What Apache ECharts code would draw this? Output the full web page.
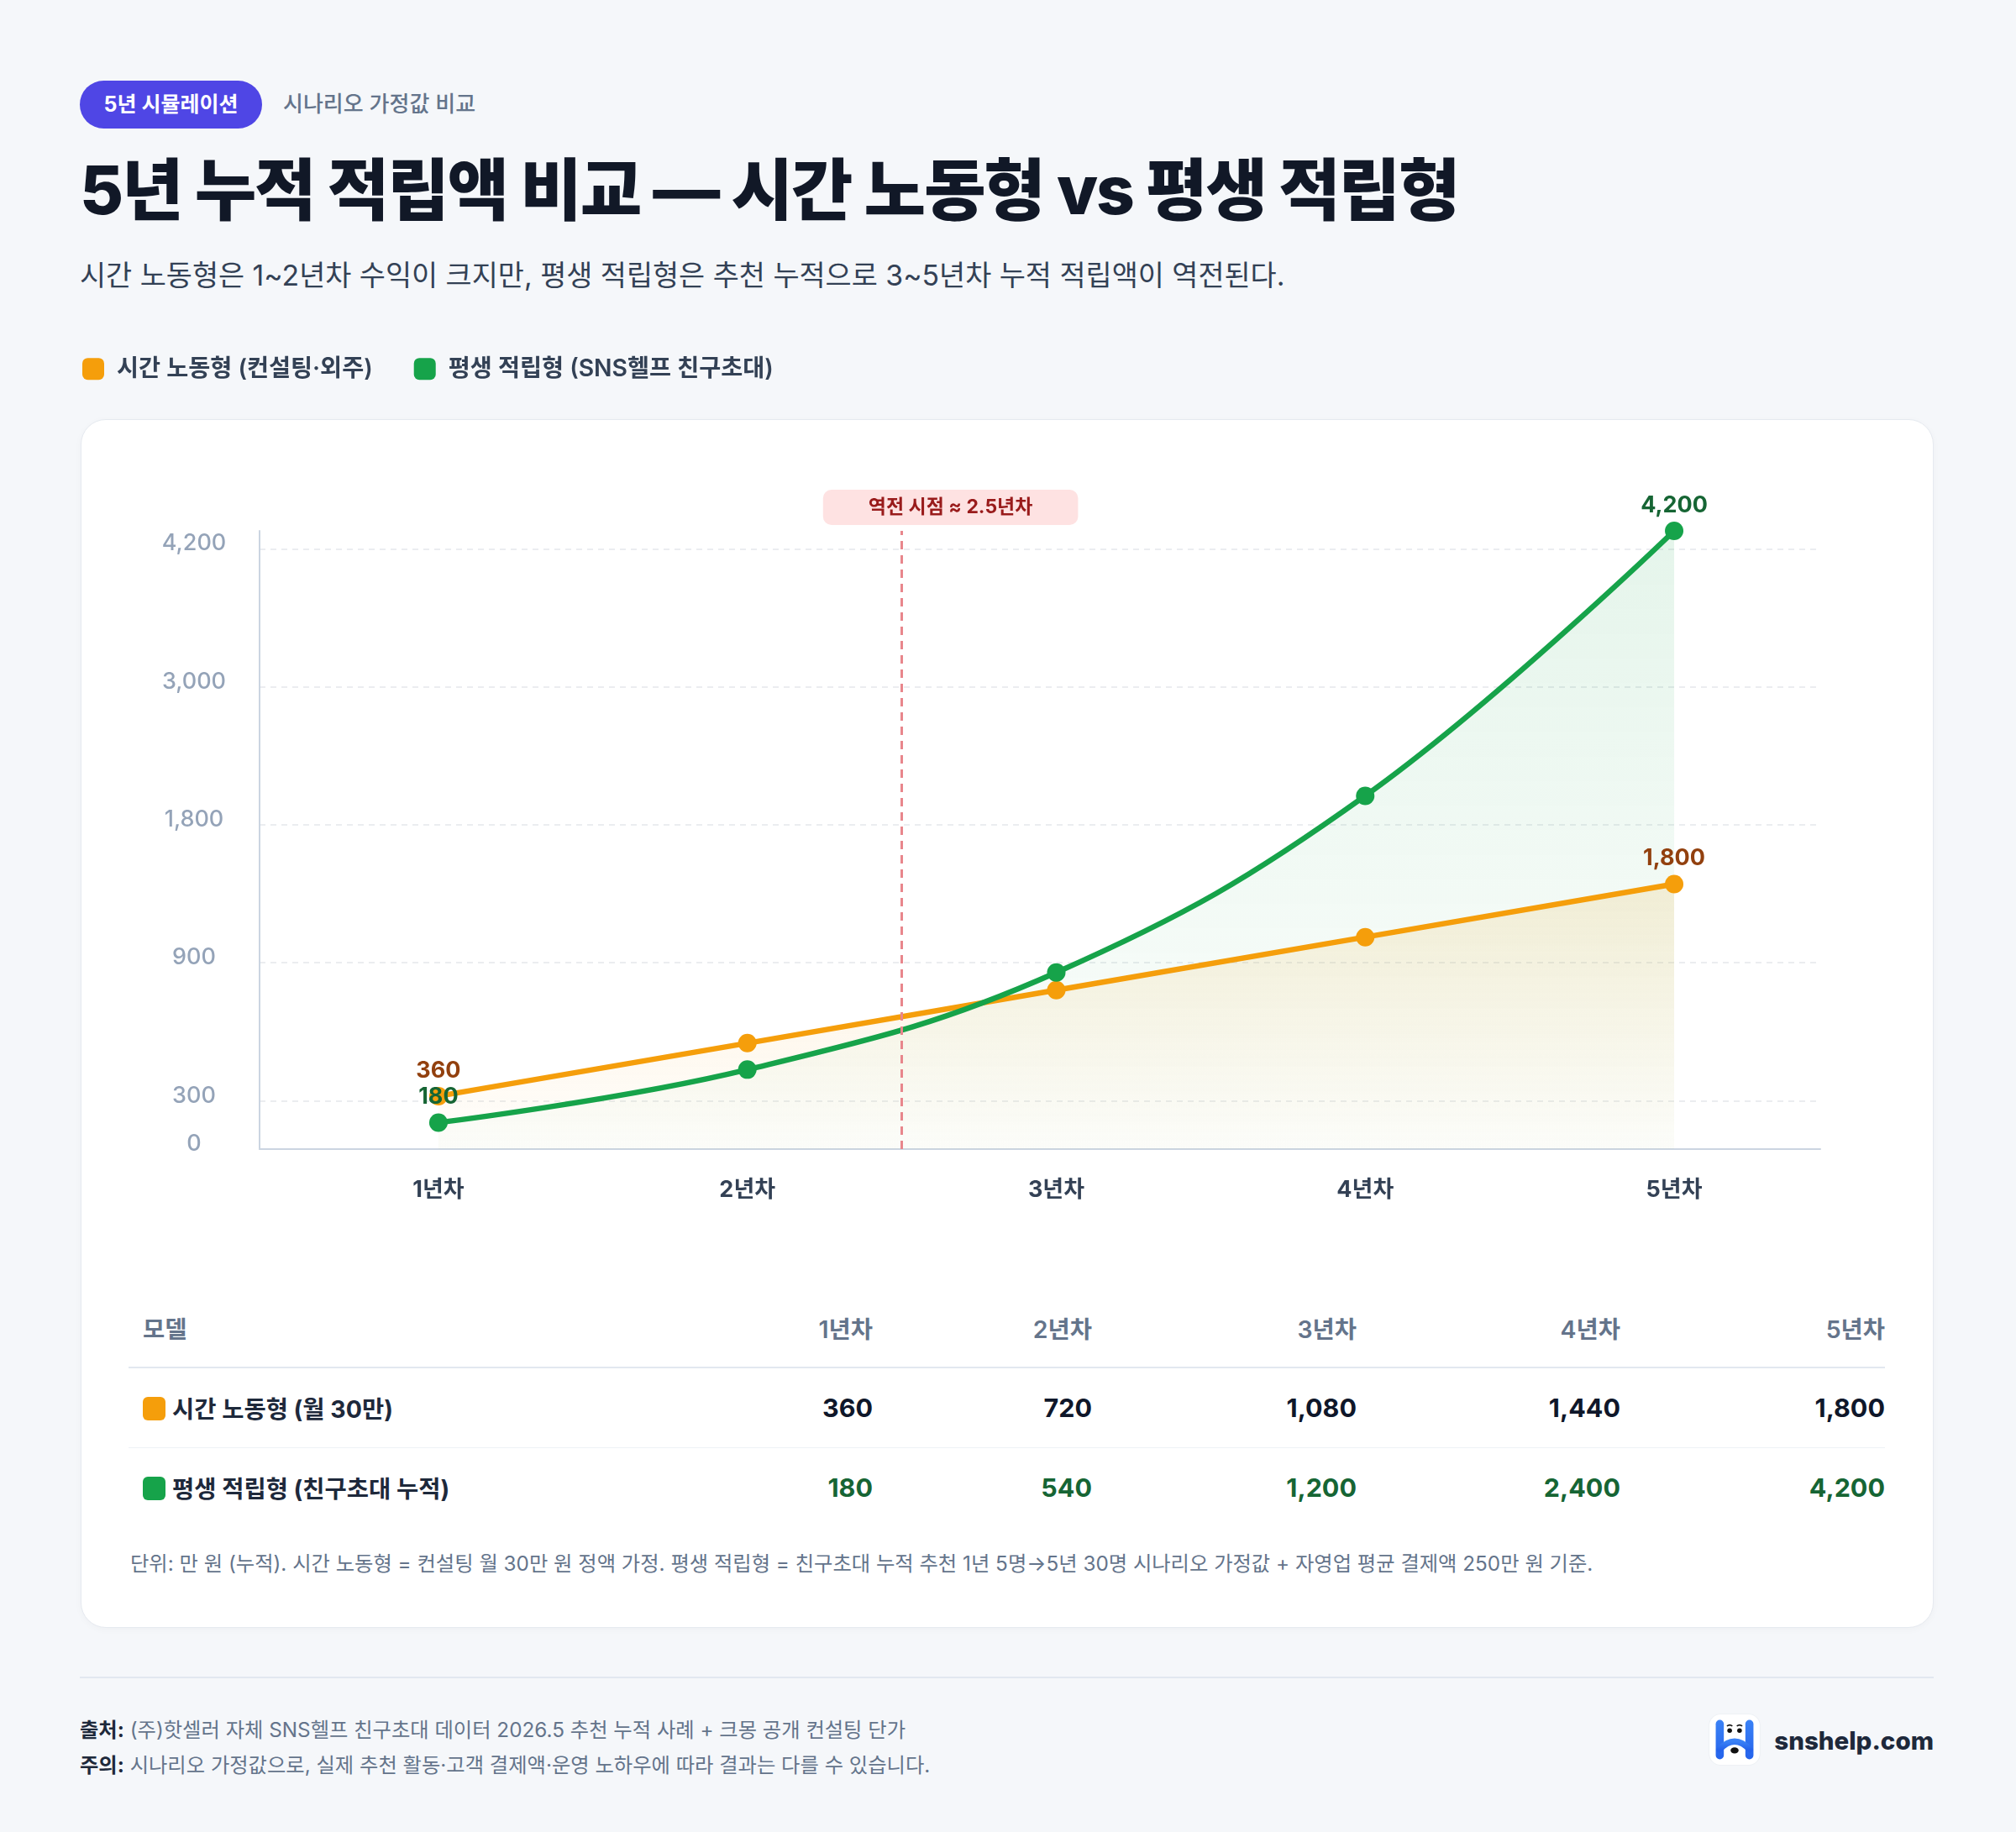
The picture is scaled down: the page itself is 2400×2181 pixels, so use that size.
<!DOCTYPE html>
<html lang="ko">
<head>
<meta charset="utf-8">
<script src="https://cdn.jsdelivr.net/npm/echarts@6/dist/echarts.min.js"></script>
<style>
  * { box-sizing: border-box; }
  body {
    margin: 0; width: 2400px; height: 2181px; background: #f5f7fa;
    position: relative; overflow: hidden;
    font-family: Inter, "Noto Sans CJK KR", sans-serif;
  }
  .abs { position: absolute; white-space: nowrap; margin: 0; }
  .badge {
    left: 95px; top: 96px; width: 217px; height: 57px; border-radius: 29px;
    background: #4f46e5; color: #fff; font-size: 25px; font-weight: 700;
    line-height: 57px; text-align: center;
  }
  .kicker { left: 337px; top: 106px; font-size: 26px; line-height: 36px; color: #64748b; font-weight: 500; }
  h1.abs { left: 95px; top: 178px; font-size: 80px; line-height: 96px; font-weight: 800; color: #111827; letter-spacing: -2.2px; }
  .sub { left: 95px; top: 307px; font-size: 33.8px; line-height: 42px; color: #334155; }
  .card {
    left: 96px; top: 499px; width: 2206px; height: 1439px; background: #fff;
    border: 1.5px solid #e6eaf0; border-radius: 30px;
    box-shadow: 0 2px 8px rgba(15, 23, 42, 0.03);
  }
  #chart { position: absolute; left: 0; top: 0; width: 2400px; height: 1480px; }
  table.abs {
    left: 153px; top: 1533px; width: 2091px; border-collapse: collapse; table-layout: fixed;
  }
  td, th { height: 95px; padding: 0; vertical-align: middle; text-align: right; white-space: nowrap; }
  th { font-size: 28.5px; font-weight: 600; color: #64748b; border-bottom: 2px solid #e2e8f0; }
  td { font-size: 30.5px; font-weight: 700; color: #0f172a; }
  tr.r0 td { border-bottom: 1.5px solid #eef2f6; }
  th:first-child, td:first-child { text-align: left; padding-left: 17px; }
  td:first-child { color: #1e293b; font-size: 28.5px; }
  .sw { display: inline-block; width: 27px; height: 28px; border-radius: 6px; vertical-align: -3px; margin-right: 8px; }
  .note { left: 155px; top: 1845px; font-size: 24.3px; line-height: 32px; color: #64748b; }
  .rule { left: 95px; top: 1996px; width: 2207px; height: 2px; background: #e2e8f0; }
  .foot { left: 95px; font-size: 24.3px; line-height: 32px; color: #64748b; }
  .foot b { color: #1e293b; font-weight: 700; }
  .brand { right: 98px; top: 2052px; font-size: 29.5px; line-height: 40px; font-weight: 800; color: #1e293b; }
</style>
</head>
<body>
<div class="abs badge">5년 시뮬레이션</div>
<div class="abs kicker">시나리오 가정값 비교</div>
<h1 class="abs">5년 누적 적립액 비교 — 시간 노동형 vs 평생 적립형</h1>
<p class="abs sub">시간 노동형은 1~2년차 수익이 크지만, 평생 적립형은 추천 누적으로 3~5년차 누적 적립액이 역전된다.</p>

<div class="abs card"></div>
<div id="chart"></div>
<table class="abs" id="tbl">
  <colgroup>
    <col style="width:625px"><col style="width:261px"><col style="width:261px">
    <col style="width:315px"><col style="width:314px"><col style="width:315px">
  </colgroup>
  <thead></thead>
  <tbody></tbody>
</table>
<p class="abs note">단위: 만 원 (누적). 시간 노동형 = 컨설팅 월 30만 원 정액 가정. 평생 적립형 = 친구초대 누적 추천 1년 5명→5년 30명 시나리오 가정값 + 자영업 평균 결제액 250만 원 기준.</p>

<div class="abs rule"></div>
<p class="abs foot" style="top:2043px"><b>출처:</b> (주)핫셀러 자체 SNS헬프 친구초대 데이터 2026.5 추천 누적 사례 + 크몽 공개 컨설팅 단가</p>
<p class="abs foot" style="top:2085px"><b>주의:</b> 시나리오 가정값으로, 실제 추천 활동·고객 결제액·운영 노하우에 따라 결과는 다를 수 있습니다.</p>

<svg class="abs" style="left:2034px; top:2040px" width="62" height="62" viewBox="0 0 58 58">
  <defs>
    <linearGradient id="lg" x1="0" y1="0" x2="0" y2="1">
      <stop offset="0" stop-color="#3b82f6"/><stop offset="1" stop-color="#2563eb"/>
    </linearGradient>
  </defs>
  <rect x="0.5" y="0.5" width="57" height="57" rx="13" fill="#fff" stroke="#eef1f5"/>
  <rect x="8" y="7" width="9" height="44" rx="4.5" fill="url(#lg)"/>
  <rect x="41" y="7" width="9" height="44" rx="4.5" fill="url(#lg)"/>
  <path d="M12 40 Q29 22 46 40" fill="none" stroke="url(#lg)" stroke-width="7" stroke-linecap="round"/>
  <circle cx="23.5" cy="19" r="2.6" fill="#111"/>
  <circle cx="34.5" cy="19" r="2.6" fill="#111"/>
  <path d="M20.5 14 q3 -2.5 6 0 M31.5 14 q3 -2.5 6 0" stroke="#111" stroke-width="1.5" fill="none"/>
  <ellipse cx="29" cy="41" rx="4.5" ry="3.4" fill="#111"/>
</svg>
<div class="abs brand">snshelp.com</div>

<script>
// 데이터
const years = [1, 2, 3, 4, 5];
const yearLabels = ['1년차', '2년차', '3년차', '4년차', '5년차'];
const hourlyValues = [360, 720, 1080, 1440, 1800];
const lifetimeValues = [180, 540, 1200, 2400, 4200];
const yTickLabels = ['0', '300', '900', '1,800', '3,000', '4,200'];
const crossoverYear = 2.5;
const seriesNames = ['시간 노동형 (컨설팅·외주)', '평생 적립형 (SNS헬프 친구초대)'];
const tableNames = ['시간 노동형 (월 30만)', '평생 적립형 (친구초대 누적)'];

const FONT = 'Inter, "Noto Sans CJK KR", sans-serif';
const ORANGE = '#f59e0b';
const GREEN = '#16a34a';
const fmt = (v) => v.toLocaleString('en-US');

// 표
const thead = document.querySelector('#tbl thead');
thead.innerHTML = '<tr><th>모델</th>' + yearLabels.map((l) => `<th>${l}</th>`).join('') + '</tr>';
const tbody = document.querySelector('#tbl tbody');
[[hourlyValues, ORANGE, '#0f172a'], [lifetimeValues, GREEN, '#166534']].forEach(([vals, c, tc], i) => {
  tbody.innerHTML += `<tr class="r${i}"><td><span class="sw" style="background:${c}"></span>${tableNames[i]}</td>` +
    vals.map((v) => `<td style="color:${tc}">${fmt(v)}</td>`).join('') + '</tr>';
});

// 눈금 위치 (원본의 눈금 배치)
const tickSlots = [0, 0.35, 1.35, 2.35, 3.35, 4.35];

const endLabel = (color) => ({
  show: true,
  position: 'top',
  distance: 6,
  color,
  fontSize: 27,
  fontWeight: 700,
  fontFamily: FONT,
  formatter: (p) => (p.dataIndex === 0 || p.dataIndex === years.length - 1 ? fmt(p.value[1]) : ''),
});

const area = (rgb, a0, a1) => ({
  color: new echarts.graphic.LinearGradient(0, 0, 0, 1, [
    { offset: 0, color: `rgba(${rgb},${a0})` },
    { offset: 1, color: `rgba(${rgb},${a1})` },
  ]),
});

const chart = echarts.init(document.getElementById('chart'));
chart.setOption({
  animation: false,
  textStyle: { fontFamily: FONT },
  legend: {
    left: 93,
    top: 420,
    itemWidth: 26,
    itemHeight: 26,
    itemGap: 49,
    icon: 'roundRect',
    selectedMode: false,
    data: seriesNames,
    textStyle: { fontSize: 28.3, fontWeight: 600, color: '#334155', fontFamily: FONT, padding: [0, 0, 0, 10] },
  },
  grid: { left: 309, right: 233, top: 632, bottom: 112 },
  xAxis: {
    type: 'value',
    min: 0.421,
    max: 5.473,
    axisLine: { lineStyle: { color: '#cbd5e1', width: 2 } },
    axisTick: { show: false },
    splitLine: { show: false },
    axisLabel: {
      customValues: years,
      formatter: (v) => yearLabels[years.indexOf(v)],
      margin: 35,
      fontSize: 27,
      fontWeight: 700,
      color: '#334155',
      fontFamily: FONT,
    },
  },
  yAxis: [
    {
      type: 'value',
      min: 0,
      max: 4200,
      axisLine: { show: true, lineStyle: { color: '#cbd5e1', width: 2 } },
      axisTick: { show: false },
      axisLabel: { show: false },
      splitLine: { show: false },
    },
    {
      type: 'value',
      position: 'left',
      min: 0,
      max: 4.48,
      axisLine: { show: false },
      axisTick: { show: false, customValues: tickSlots.slice(1) },
      axisLabel: {
        customValues: tickSlots,
        formatter: (v) => yTickLabels[tickSlots.indexOf(v)],
        align: 'center',
        margin: 78,
        fontSize: 27,
        fontWeight: 500,
        color: '#94a3b8',
        fontFamily: FONT,
        verticalAlign: 'bottom',
        lineHeight: 12,
      },
      splitLine: { show: true, lineStyle: { color: '#e5e7eb', type: [7, 6], width: 1.5 } },
    },
  ],
  series: [
    {
      name: seriesNames[0],
      type: 'line',
      yAxisIndex: 0,
      data: years.map((x, i) => [x, hourlyValues[i]]),
      symbol: 'circle',
      symbolSize: 22,
      lineStyle: { color: ORANGE, width: 6.5 },
      itemStyle: { color: ORANGE },
      areaStyle: area('245,158,11', 0.2, 0.02),
      label: endLabel('#92400e'),
    },
    {
      name: seriesNames[1],
      type: 'line',
      yAxisIndex: 0,
      smooth: 0.4,
      data: years.map((x, i) => [x, lifetimeValues[i]]),
      symbol: 'circle',
      symbolSize: 22,
      lineStyle: { color: GREEN, width: 6.5 },
      itemStyle: { color: GREEN },
      areaStyle: area('22,163,74', 0.16, 0.02),
      label: endLabel('#166534'),
      markLine: {
        silent: true,
        symbol: 'none',
        lineStyle: { color: '#e8868c', type: [10, 7], width: 3 },
        label: {
          show: true,
          position: 'end',
          formatter: `역전 시점 ≈ ${crossoverYear}년차`,
          color: '#991b1b',
          fontSize: 23,
          fontWeight: 700,
          fontFamily: FONT,
          lineHeight: 24,
          backgroundColor: '#fee2e2',
          padding: [9, 54],
          borderRadius: 10,
          distance: 7,
          offset: [58, 0],
        },
        data: [{ xAxis: crossoverYear }],
      },
    },
  ],
});
</script>
</body>
</html>
